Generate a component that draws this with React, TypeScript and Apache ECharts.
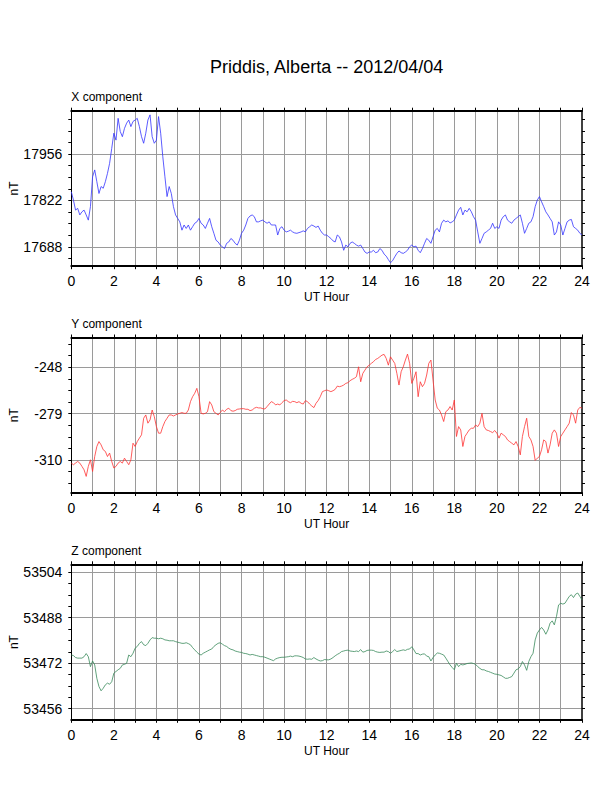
import * as echarts from 'echarts';
import { useEffect, useRef } from 'react';

// sample times, one reading every 6 minutes (0.1 h)
const hours = Array.from({ length: 241 }, (_, i) => i / 10);

// X component, nT
const xValues = [
  17847, 17823, 17794, 17799, 17780, 17789, 17794, 17780, 17765, 17804,
  17890, 17910, 17876, 17842, 17862, 17857, 17876, 17900, 17929, 17972,
  18016, 17996, 18059, 18021, 18006, 18030, 18045, 18054, 18035, 18050,
  18054, 18059, 18035, 18006, 17987, 18016, 18054, 18069, 18006, 17987,
  17996, 18064, 18016, 17948, 17890, 17833, 17862, 17842, 17804, 17780,
  17770, 17760, 17736, 17751, 17741, 17751, 17736, 17746, 17756, 17760,
  17770, 17756, 17751, 17741, 17756, 17770, 17746, 17727, 17707, 17702,
  17693, 17688, 17683, 17698, 17702, 17712, 17707, 17698, 17693, 17707,
  17727, 17736, 17751, 17770, 17777, 17780, 17775, 17760, 17760, 17763,
  17765, 17760, 17756, 17760, 17751, 17751, 17751, 17722, 17741, 17746,
  17736, 17731, 17733, 17736, 17731, 17728, 17727, 17729, 17731, 17734,
  17731, 17741, 17746, 17751, 17748, 17744, 17748, 17736, 17727, 17722,
  17722, 17717, 17712, 17705, 17702, 17722, 17717, 17702, 17678, 17693,
  17688, 17698, 17702, 17698, 17693, 17690, 17693, 17683, 17673, 17669,
  17673, 17673, 17678, 17671, 17673, 17683, 17678, 17667, 17661, 17651,
  17642, 17648, 17659, 17669, 17676, 17671, 17669, 17673, 17678, 17688,
  17693, 17688, 17690, 17678, 17671, 17683, 17698, 17712, 17707, 17698,
  17717, 17736, 17741, 17731, 17756, 17765, 17760, 17763, 17757, 17760,
  17765, 17780, 17794, 17802, 17780, 17794, 17789, 17799, 17789, 17775,
  17765, 17731, 17698, 17712, 17727, 17731, 17736, 17741, 17756, 17741,
  17746, 17741, 17765, 17775, 17780, 17765, 17760, 17756, 17765, 17770,
  17775, 17780, 17756, 17727, 17741, 17756, 17760, 17775, 17804, 17823,
  17833, 17818, 17804, 17789, 17780, 17770, 17760, 17722, 17731, 17760,
  17751, 17722, 17741, 17760, 17765, 17767, 17746, 17741, 17736, 17727,
  17722,
];

// Y component, nT
const yValues = [
  -312.1, -313.2, -312.1, -311, -312.1, -314.3, -316.6, -321, -314.3, -309.9,
  -317.7, -307.7, -301, -297.7, -299.9, -303.2, -304.3, -307.7, -305.4, -311,
  -315.4, -314.3, -312.1, -311, -312.1, -308.8, -311, -313.2, -309.9, -298.8,
  -301, -297.7, -295.4, -293.2, -282.1, -279.9, -285.4, -283.2, -276.6, -281,
  -287.7, -292.1, -292.1, -287.7, -284.3, -282.1, -279.9, -279.9, -280.6, -279.9,
  -279.2, -278.8, -278.3, -278.8, -278.8, -276.6, -271, -267.7, -265.4, -262.1,
  -267.7, -278.8, -279.2, -278.8, -277.7, -271, -273.2, -277.7, -278.8, -279.9,
  -278.3, -276.6, -277.7, -276.1, -275.4, -277, -277.4, -277, -276.1, -275.9,
  -275.7, -275.7, -276.1, -276.1, -277, -276.6, -275.4, -274.8, -275.2, -275.2,
  -275.7, -275.9, -274.3, -272.6, -271, -271.7, -273.2, -272.6, -273.2, -271.7,
  -270.3, -269.9, -271, -271.7, -270.8, -271, -271.7, -271, -272.1, -272.6,
  -270.3, -271, -272.6, -273.9, -275, -272.1, -270.3, -267.7, -264.3, -263.7,
  -263.2, -263.7, -264.3, -263.7, -262.8, -260.6, -261, -260.6, -259.9, -258.8,
  -258.3, -257, -256.1, -255.4, -254.3, -247.7, -257.7, -252.1, -249.9, -247.7,
  -246.6, -245.4, -244.3, -242.8, -242.1, -241, -239.9, -239.4, -242.1, -246.6,
  -241, -243.2, -245.4, -252.1, -259.9, -251, -247.7, -243.2, -239.2, -245.4,
  -258.8, -255.4, -251, -267.7, -257.7, -261, -258.8, -253.2, -245.4, -243.2,
  -256.6, -269.9, -275.4, -276.6, -279.9, -284.3, -277.7, -276.6, -274.3, -276.6,
  -269.9, -294.3, -287.7, -289.9, -301, -294.3, -292.1, -289.9, -288.8, -288.8,
  -286.6, -287.7, -285.4, -278.8, -287.7, -289.9, -290.3, -291, -291.7, -290.3,
  -292.1, -295.4, -292.1, -293.2, -294.3, -296.6, -297.7, -298.8, -299.9, -297.7,
  -301, -306.6, -294.3, -287.7, -282.1, -294.3, -296.6, -301, -310.3, -308.8,
  -307.7, -303.2, -296.6, -297.7, -305.4, -299.9, -292.1, -289.9, -292.1, -301,
  -294.3, -292.1, -289.9, -287.7, -285.4, -278.3, -279.9, -285.4, -276.6, -274.8,
  -275.4,
];

// Z component, nT
const zValues = [
  53474.9, 53474.7, 53474.0, 53473.8, 53473.8, 53473.8, 53474.3, 53475.4, 53474.3, 53470.8,
  53472.8, 53471.4, 53466.7, 53463.8, 53462.3, 53463.2, 53464.4, 53465.0, 53464.6, 53465.5,
  53468.5, 53469.1, 53469.7, 53470.2, 53471.4, 53471.6, 53472.0, 53474.9, 53474.3, 53475.5,
  53477.3, 53477.9, 53479.0, 53479.6, 53478.5, 53478.2, 53479.0, 53480.2, 53481.0, 53480.8,
  53480.8, 53480.6, 53480.8, 53480.6, 53480.2, 53480.1, 53479.9, 53479.9, 53479.9, 53479.6,
  53479.4, 53479.2, 53479.0, 53479.0, 53479.2, 53478.9, 53478.5, 53477.5, 53476.7, 53475.9,
  53475.2, 53474.9, 53475.5, 53475.9, 53476.3, 53476.7, 53477.0, 53477.9, 53478.5, 53479.0,
  53479.2, 53478.7, 53478.2, 53477.9, 53477.3, 53476.9, 53476.7, 53476.3, 53476.1, 53475.9,
  53475.8, 53475.5, 53475.4, 53475.2, 53474.9, 53475.1, 53474.9, 53474.7, 53474.5, 53474.3,
  53474.3, 53474.1, 53473.8, 53473.5, 53473.2, 53472.9, 53473.5, 53473.8, 53474.0, 53474.1,
  53474.1, 53474.2, 53474.3, 53474.5, 53474.3, 53474.6, 53474.6, 53474.5, 53474.3, 53474.0,
  53473.5, 53473.4, 53473.5, 53473.4, 53474.0, 53473.5, 53473.1, 53472.8, 53472.9, 53473.3,
  53473.2, 53473.2, 53473.5, 53474.0, 53474.6, 53475.1, 53475.5, 53476.1, 53476.3, 53476.5,
  53476.6, 53476.3, 53476.2, 53476.1, 53476.3, 53476.1, 53476.8, 53475.9, 53476.1, 53476.5,
  53476.6, 53476.6, 53476.5, 53476.1, 53475.9, 53475.8, 53475.9, 53475.9, 53476.3, 53476.1,
  53475.5, 53476.1, 53476.8, 53476.1, 53476.3, 53476.5, 53476.7, 53476.5, 53476.9, 53477.0,
  53477.8, 53476.7, 53475.4, 53475.4, 53474.9, 53475.2, 53475.3, 53474.5, 53474.3, 53472.8,
  53474.0, 53474.9, 53475.6, 53475.5, 53475.2, 53474.9, 53473.8, 53472.6, 53471.4, 53470.5,
  53469.7, 53472.0, 53470.8, 53471.6, 53471.4, 53471.6, 53471.9, 53472.0, 53472.1, 53471.9,
  53471.6, 53470.8, 53470.2, 53469.7, 53469.7, 53469.3, 53469.1, 53468.8, 53468.5, 53468.2,
  53468.1, 53467.9, 53467.7, 53467.2, 53466.7, 53466.7, 53467.0, 53467.3, 53468.5, 53469.7,
  53470.0, 53470.8, 53472.6, 53471.4, 53469.5, 53472.6, 53474.3, 53475.5, 53480.2, 53482.6,
  53483.7, 53484.6, 53483.7, 53482.2, 53483.7, 53486.1, 53486.9, 53485.5, 53488.4, 53492.5,
  53493.1, 53492.8, 53493.1, 53494.3, 53495.5, 53496.1, 53495.1, 53496.3, 53496.7, 53495.5,
  53494.3,
];

// y tick labels (major) and unlabelled minor ticks
const xMajor = [17688, 17822, 17956];
const xMinor = [17654.5, 17721.5, 17755, 17788.5, 17855.5, 17889, 17922.5, 17989.5, 18023, 18056.5];
const yMajor = [-310, -279, -248];
const yMinor = [-325.5, -317.75, -302.25, -294.5, -286.75, -271.25, -263.5, -255.75, -240.25, -232.5];
const zMajor = [53456, 53472, 53488, 53504];
const zMinor = [53460, 53464, 53468, 53476, 53480, 53484, 53492, 53496, 53500];

const FONT = '"Liberation Sans", Arial, Helvetica, sans-serif';
const GRID_LEFT = 71.3;
const GRID_WIDTH = 510.7;
const GRID_HEIGHT = 155.5;

const panels = [
  { label: 'X component', values: xValues, color: '#3333ff', min: 17632, max: 18081, major: xMajor, minor: xMinor, top: 110.7 },
  { label: 'Y component', values: yValues, color: '#ff3333', min: -332.1, max: -228.1, major: yMajor, minor: yMinor, top: 337.5 },
  { label: 'Z component', values: zValues, color: '#3a8a5c', min: 53452.1, max: 53506.8, major: zMajor, minor: zMinor, top: 564.3 },
];

export default function App() {
  const elRef = useRef<HTMLDivElement | null>(null);

  useEffect(() => {
    if (!elRef.current) return;
    const chart = echarts.init(elRef.current, undefined, { renderer: 'svg' });

    const black = '#000';
    const gridLine = { show: true, lineStyle: { color: '#9a9a9a', width: 1 } };
    const txt = { color: black, fontFamily: FONT };

    const xAxis: any[] = [];
    const yAxis: any[] = [];
    const series: any[] = [];

    panels.forEach((p, i) => {
      xAxis.push(
        {
          gridIndex: i,
          type: 'value',
          position: 'bottom',
          min: 0,
          max: 24,
          interval: 1,
          axisLine: { onZero: false, lineStyle: { color: black, width: 2 } },
          axisTick: { length: 3, lineStyle: { color: black, width: 1 } },
          axisLabel: { ...txt, fontSize: 14, margin: 8, formatter: (v: number) => (v % 2 === 0 ? String(v) : '') },
          splitLine: { ...gridLine, showMinLine: false, showMaxLine: false },
          name: 'UT Hour',
          nameLocation: 'middle',
          nameGap: 25,
          nameMoveOverlap: false,
          nameTextStyle: { ...txt, fontSize: 12 },
        },
        {
          gridIndex: i,
          type: 'value',
          position: 'top',
          min: 0,
          max: 24,
          interval: 1,
          axisLine: { onZero: false, lineStyle: { color: black, width: 2 } },
          axisTick: { length: 3, lineStyle: { color: black, width: 1 } },
          axisLabel: { show: false },
          splitLine: { show: false },
        }
      );

      yAxis.push(
        {
          gridIndex: i,
          type: 'value',
          position: 'left',
          min: p.min,
          max: p.max,
          axisLine: { show: true, onZero: false, lineStyle: { color: black, width: 1 } },
          axisTick: { show: true, length: 3, customValues: p.major, lineStyle: { color: black, width: 1 } },
          axisLabel: { ...txt, fontSize: 14, margin: 9, customValues: p.major, formatter: (v: number) => String(v) },
          splitLine: gridLine,
          name: 'nT',
          nameLocation: 'middle',
          nameGap: 51,
          nameMoveOverlap: false,
          nameTextStyle: { ...txt, fontSize: 12 },
        },
        {
          gridIndex: i,
          type: 'value',
          position: 'left',
          min: p.min,
          max: p.max,
          axisLine: { show: false, onZero: false },
          axisTick: { show: true, length: 3, customValues: p.minor, lineStyle: { color: black, width: 1 } },
          axisLabel: { show: false },
          splitLine: { show: false },
        },
        {
          gridIndex: i,
          type: 'value',
          position: 'right',
          min: p.min,
          max: p.max,
          axisLine: { show: true, onZero: false, lineStyle: { color: black, width: 1.5 } },
          axisTick: {
            show: true,
            length: 3,
            customValues: [...p.major, ...p.minor].sort((a, b) => a - b),
            lineStyle: { color: black, width: 1 },
          },
          axisLabel: { show: false },
          splitLine: { show: false },
        }
      );

      series.push({
        type: 'line',
        xAxisIndex: i * 2,
        yAxisIndex: i * 3,
        data: hours.map((h, k) => [h, p.values[k]]),
        showSymbol: false,
        symbol: 'none',
        silent: true,
        lineStyle: { color: p.color, width: 0.8 },
      });
    });

    chart.setOption({
      animation: false,
      backgroundColor: '#fff',
      grid: panels.map((p) => ({
        left: GRID_LEFT,
        top: p.top,
        width: GRID_WIDTH,
        height: GRID_HEIGHT,
        containLabel: false,
        outerBoundsMode: 'none',
      })),
      xAxis,
      yAxis,
      series,
      graphic: [
        {
          type: 'text',
          x: GRID_LEFT + GRID_WIDTH / 2,
          y: 67,
          style: { text: 'Priddis, Alberta -- 2012/04/04', fontSize: 18, fontFamily: FONT, fill: black, align: 'center', verticalAlign: 'middle' },
        },
        ...panels.map((p) => ({
          type: 'text',
          x: GRID_LEFT,
          y: p.top - 13.5,
          style: { text: p.label, fontSize: 12, fontFamily: FONT, fill: black, align: 'left', verticalAlign: 'middle' },
        })),
      ],
    });

    return () => {
      chart.dispose();
    };
  }, []);

  return <div ref={elRef} style={{ position: 'absolute', left: 0, top: 0, width: 612, height: 792, background: '#fff' }} />;
}
